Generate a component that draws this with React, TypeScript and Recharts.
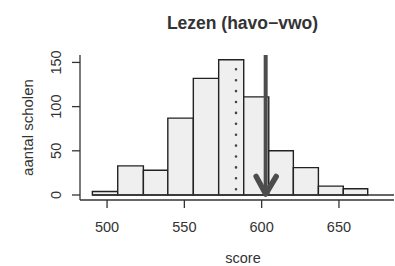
import React from 'react';
import { ComposedChart, XAxis, YAxis, ReferenceArea, ReferenceLine } from 'recharts';

// histogram of school means
const BIN_EDGES = [490.5, 506.9, 523.5, 539.3, 555.8, 572.2, 588.4, 604.6, 620.5, 636.7, 652.8, 668.6];
const COUNTS = [4, 33, 28, 87, 132, 153, 111, 50, 31, 10, 7];
const X_TICKS = [500, 550, 600, 650];
const Y_TICKS = [0, 50, 100, 150];
const X_DOMAIN = [482.5, 685.6];
const Y_DOMAIN = [-5.66, 158.4];
const MEAN_SCORE = 583.4;
const MEAN_LINE_TOP = 142.2;
const SCHOOL_SCORE = 602.6;

const FONT = '"Liberation Sans", Arial, Helvetica, sans-serif';
const INK = '#333';

const bins = COUNTS.map((count, i) => ({ x1: BIN_EDGES[i], x2: BIN_EDGES[i + 1], count }));

const XTick = (props: any) => (
  <text x={props.x} y={props.y} dy={22} textAnchor="middle" fontSize={14.5} fontFamily={FONT} fill={INK}>
    {props.payload.value}
  </text>
);

const YTick = (props: any) => {
  const x = props.x - 8.5;
  return (
    <text x={x} y={props.y} transform={`rotate(-90 ${x} ${props.y})`} textAnchor="middle" fontSize={14.5} fontFamily={FONT} fill={INK}>
      {props.payload.value}
    </text>
  );
};

const Arrow = (p: any) => {
  const { x1, y1, x2, y2 } = p;
  if (x1 == null) return null;
  return (
    <g stroke="#4d4d4d" fill="none" strokeLinecap="round" strokeLinejoin="round">
      <line x1={x1} y1={y1} x2={x2} y2={y2 - 3} strokeWidth={4} strokeLinecap="butt" />
      <polyline points={`${x2 - 9.5},${y2 - 18.5} ${x2},${y2 - 1} ${x2 + 10.5},${y2 - 18.5}`} strokeWidth={5.5} />
    </g>
  );
};

const App: React.FC = () => {
  return (
    <div style={{ position: 'absolute', left: 0, top: 0, width: 395, height: 266, background: '#fff', fontFamily: FONT }}>
      <div
        style={{
          position: 'absolute', left: 142, top: 13, width: 201, textAlign: 'center',
          fontSize: 17.5, lineHeight: '20px', fontWeight: 'bold', color: INK, whiteSpace: 'nowrap',
        }}
      >
        Lezen (havo−vwo)
      </div>
      <ComposedChart width={395} height={266} data={bins} margin={{ top: 55, right: 1, bottom: 0, left: 0 }}>
        <XAxis
          type="number"
          dataKey="x1"
          domain={X_DOMAIN}
          allowDataOverflow
          ticks={X_TICKS}
          tickSize={8}
          height={66}
          stroke={INK}
          strokeWidth={1.3}
          tick={<XTick />}
          label={{
            content: (lp: any) => {
              const vb = lp.viewBox;
              return (
                <text x={vb.x + vb.width / 2 + 6} y={vb.y + 63} textAnchor="middle" fontSize={14.5} fontFamily={FONT} fill={INK}>
                  score
                </text>
              );
            },
          }}
        />
        <YAxis
          type="number"
          dataKey="count"
          domain={Y_DOMAIN}
          allowDataOverflow
          ticks={Y_TICKS}
          tickSize={8}
          width={80}
          stroke={INK}
          strokeWidth={1.3}
          tick={<YTick />}
          label={{
            content: (lp: any) => {
              const vb = lp.viewBox;
              const x = vb.x + 33;
              const y = vb.y + vb.height / 2;
              return (
                <text x={x} y={y} transform={`rotate(-90 ${x} ${y})`} textAnchor="middle" fontSize={15} fontFamily={FONT} fill={INK}>
                  aantal scholen
                </text>
              );
            },
          }}
        />
        {bins.map((b, i) => (
          <ReferenceArea
            key={`bin-${i}`}
            x1={b.x1}
            x2={b.x2}
            y1={0}
            y2={b.count}
            fill="#efefef"
            fillOpacity={1}
            stroke="#222"
            strokeWidth={1.4}
            ifOverflow="visible"
          />
        ))}
        <ReferenceLine
          segment={[{ x: BIN_EDGES[0], y: 0 }, { x: X_DOMAIN[1], y: 0 }]}
          stroke={INK}
          strokeWidth={1.3}
          ifOverflow="visible"
        />
        <ReferenceLine
          segment={[{ x: MEAN_SCORE, y: MEAN_LINE_TOP }, { x: MEAN_SCORE, y: 0 }]}
          stroke="#444"
          strokeWidth={2.6}
          strokeDasharray="0 10.9"
          strokeLinecap="round"
          ifOverflow="visible"
        />
        <ReferenceLine
          segment={[{ x: SCHOOL_SCORE, y: Y_DOMAIN[1] }, { x: SCHOOL_SCORE, y: 0 }]}
          shape={<Arrow />}
          ifOverflow="visible"
        />
      </ComposedChart>
    </div>
  );
};

export default App;
